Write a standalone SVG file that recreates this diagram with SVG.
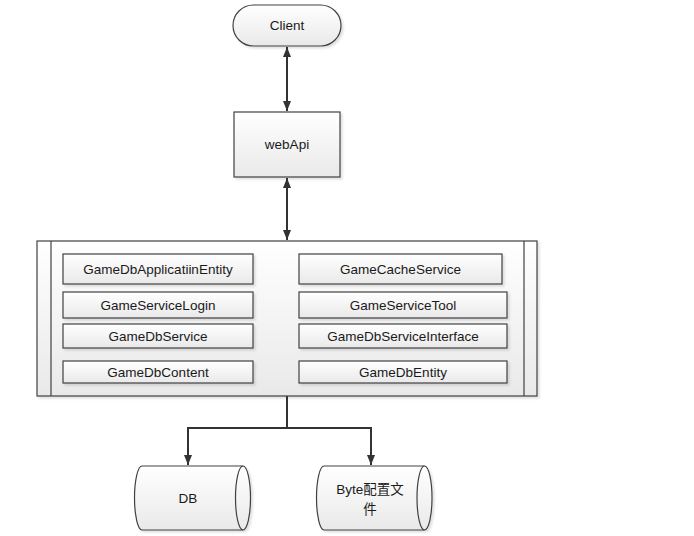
<svg xmlns="http://www.w3.org/2000/svg" width="694" height="536" viewBox="0 0 694 536">
<defs>
<linearGradient id="g" x1="0" y1="0" x2="0" y2="1">
<stop offset="0" stop-color="#ffffff"/>
<stop offset="1" stop-color="#e9e9e9"/>
</linearGradient>
<filter id="sh" x="-10%" y="-10%" width="130%" height="130%">
<feDropShadow dx="2" dy="2" stdDeviation="1" flood-color="#000" flood-opacity="0.12"/>
</filter>
<marker id="ah" viewBox="0 0 10 10" refX="10" refY="5" markerWidth="10" markerHeight="10" markerUnits="userSpaceOnUse" orient="auto-start-reverse">
<path d="M0,1 L10,5 L0,9 Z" fill="#333"/>
</marker>
</defs>
<style>
.shape{fill:url(#g);stroke:#404040;stroke-width:1.2;filter:url(#sh)}
.line{fill:none;stroke:#404040;stroke-width:1.2}
.conn{fill:none;stroke:#333;stroke-width:2}
text{font-family:"Liberation Sans",Arial,"Noto Sans CJK SC",sans-serif;font-size:13.5px;fill:#1a1a1a;text-anchor:middle;dominant-baseline:central}
</style>
<rect width="694" height="536" fill="#ffffff"/>

<g id="connectors">
<line class="conn" x1="287" y1="47" x2="287" y2="111" marker-start="url(#ah)" marker-end="url(#ah)"/>
<line class="conn" x1="287" y1="178" x2="287" y2="240" marker-start="url(#ah)" marker-end="url(#ah)"/>
<path class="conn" d="M287,396 V428 H188 V465" marker-end="url(#ah)"/>
<path class="conn" d="M287,428 H371 V465" marker-end="url(#ah)"/>
</g>

<g id="client">
<rect class="shape" x="233" y="5" width="108" height="41" rx="20.5" ry="20.5"/>
<text x="287" y="25.5">Client</text>
</g>

<g id="webapi">
<rect class="shape" x="234" y="112" width="106" height="65"/>
<text x="287" y="144.5">webApi</text>
</g>

<g id="container">
<rect class="shape" x="37" y="241" width="500" height="155"/>
<line class="line" x1="51" y1="241" x2="51" y2="396"/>
<line class="line" x1="524" y1="241" x2="524" y2="396"/>
</g>

<g id="n1"><rect class="shape" x="63" y="254" width="190" height="30"/><text x="158" y="269">GameDbApplicatiinEntity</text></g>
<g id="n2"><rect class="shape" x="63" y="292" width="190" height="26"/><text x="158" y="305">GameServiceLogin</text></g>
<g id="n3"><rect class="shape" x="63" y="324" width="190" height="24"/><text x="158" y="336">GameDbService</text></g>
<g id="n4"><rect class="shape" x="63" y="361" width="190" height="22"/><text x="158" y="372">GameDbContent</text></g>

<g id="n5"><rect class="shape" x="299" y="254" width="203" height="30"/><text x="400.5" y="269">GameCacheService</text></g>
<g id="n6"><rect class="shape" x="299" y="292" width="208" height="26"/><text x="403" y="305">GameServiceTool</text></g>
<g id="n7"><rect class="shape" x="299" y="324" width="208" height="24"/><text x="403" y="336">GameDbServiceInterface</text></g>
<g id="n8"><rect class="shape" x="299" y="361" width="208" height="22"/><text x="403" y="372">GameDbEntity</text></g>

<g id="db">
<path class="shape" d="M142,466 L243,466 A7.5,32 0 0 1 243,530 L142,530 A7.5,32 0 0 1 142,466 Z"/>
<path class="line" d="M243,466 A7.5,32 0 0 0 243,530"/>
<text x="188" y="498">DB</text>
</g>

<g id="byte">
<path class="shape" d="M324,466 L424.5,466 A7.5,32 0 0 1 424.5,530 L324,530 A7.5,32 0 0 1 324,466 Z"/>
<path class="line" d="M424.5,466 A7.5,32 0 0 0 424.5,530"/>
<text x="370" y="489">Byte配置文</text>
<text x="370" y="509">件</text>
</g>
</svg>
